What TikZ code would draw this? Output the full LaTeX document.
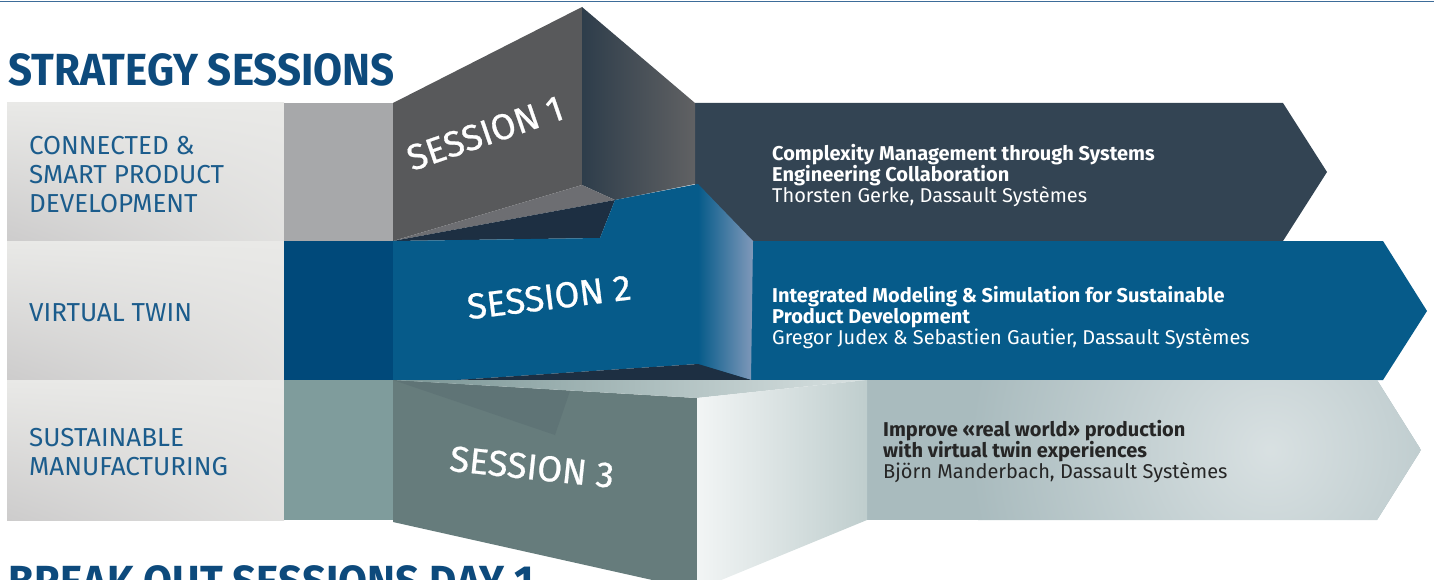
\documentclass[tikz,border=0pt]{standalone}
\usepackage{fontspec}
\setmainfont{Fira Sans}
\newfontfamily\sessionfont{Fira Sans}[FakeBold=0.7]
\usetikzlibrary{positioning,shadings}

\definecolor{headblue}{HTML}{0D4A7C}
\definecolor{labelblue}{HTML}{1B5C8C}
\definecolor{rulblue}{HTML}{3D6C99}
\definecolor{slate}{HTML}{334453}
\definecolor{petrol}{HTML}{065B8A}
\definecolor{deepblue}{HTML}{00497A}
\definecolor{sideblue}{HTML}{8099BA}
\definecolor{midgray}{HTML}{A7A8AA}
\definecolor{greyteal}{HTML}{7F9C9C}
\definecolor{frontgray}{HTML}{58595B}
\definecolor{floorgray}{HTML}{6D6E72}
\definecolor{navy}{HTML}{1D2F42}
\definecolor{frontteal}{HTML}{667C7C}
\definecolor{shadeteal}{HTML}{5F7476}
\definecolor{paleteal}{HTML}{A9BBBE}
\definecolor{boxlight}{HTML}{E9E9E7}
\definecolor{boxdark}{HTML}{CDCCCC}

\tikzset{
  heading/.style={anchor=base west, inner sep=0pt, xscale=0.935, text=headblue, font=\fontsize{45}{45}\selectfont\bfseries},
  rowlabel/.style={anchor=north west, inner sep=0pt, align=left, text=labelblue, font=\fontsize{26}{29}\selectfont},
  talk/.style={anchor=north west, inner sep=0pt, align=left, font=\fontsize{20}{21}\selectfont},
  sessionlabel/.style={inner sep=0pt, text=white, font=\sessionfont\fontsize{36}{36}\selectfont},
  rowbox/.style={upper left=boxlight, upper right=boxlight, lower left=boxdark, lower right=boxlight!70!boxdark}
}

\begin{document}
\begin{tikzpicture}[x=1pt,y=-1pt]
	\useasboundingbox (0,0) rectangle (1434,580);
	\clip (0,0) rectangle (1434,580);
	\draw[rulblue, line width=1.5pt] (0,1.5) -- (1434,1.5);

	\foreach \ytop/\ybot/\barcol in {103/241/midgray, 241/380/deepblue, 380/520/greyteal}{
		\shade[rowbox] (7,\ytop) rectangle (284,\ybot);
		\fill[\barcol] (284,\ytop) rectangle (393,\ybot);
	}

	\fill[slate] (695,103) -- (1283,103) -- (1327,172) -- (1283,241) -- (695,241) -- cycle;
	\fill[petrol] (698,241) -- (1383,241) -- (1427,311) -- (1383,380) -- (698,380) -- cycle;
	\begin{scope}
		\clip (866,380) -- (1377,380) -- (1421,450) -- (1377,520) -- (866,520) -- cycle;
		\fill[paleteal] (866,380) rectangle (1421,520);
		\shade[inner color=white!55!paleteal, outer color=paleteal] (1270,450) circle (300);
	\end{scope}

	\fill[frontgray] (393,103) -- (582,7) -- (582,185) -- (393,241) -- cycle;
	\shade[left color=slate!90!black, right color=frontgray!95!white] (582,7) -- (695,103) -- (695,184) -- (615,200) -- (582,185) -- cycle;
	\fill[floorgray] (393,241) -- (582,185) -- (615,200) -- cycle;
	\fill[navy] (393,241) -- (615,200) -- (600,238) -- cycle;

	\fill[petrol] (393,241) -- (600,238) -- (615,200) -- (698,184) -- (698,364) -- (457,380) -- (393,380) -- cycle;
	\shade[left color=petrol, right color=sideblue] (698,184) -- (753,241) -- (751,380) -- (698,364) -- cycle;
	\fill[navy] (457,380) -- (698,364) -- (751,380) -- cycle;

	\fill[frontteal] (393,380) -- (697,398) -- (697,590) -- (393,522) -- cycle;
	\fill[shadeteal] (393,380) -- (570,391) -- (555,435) -- cycle;
	\shade[left color=greyteal!95!black, right color=greyteal!30!white] (393,380) -- (867,380) -- (697,398) -- cycle;
	\shade[left color=white!90!greyteal, right color=greyteal!50!white] (697,398) -- (867,380) -- (867,520) -- (697,590) -- cycle;

	\node[heading] (strategy) at (8,86) {STRATEGY SESSIONS};
	\node[heading] (breakout) at (8,597) {BREAK OUT SESSIONS DAY 1};

	\node[rowlabel] (connected) at (29,136) {CONNECTED \&\\SMART PRODUCT\\DEVELOPMENT};
	\node[rowlabel] (virtual) at (29,303) {VIRTUAL TWIN};
	\node[rowlabel] (sustain) at (29,428) {SUSTAINABLE\\MANUFACTURING};

	\node[sessionlabel, rotate=19] (s1) at (485,133) {SESSION 1};
	\node[sessionlabel, rotate=7] (s2) at (549,297) {SESSION 2};
	\node[sessionlabel, rotate=-6] (s3) at (532,467) {SESSION 3};

	\node[talk, text=white] (t1) at (772,144) {\textbf{Complexity Management through Systems}\\\textbf{Engineering Collaboration}\\Thorsten Gerke, Dassault Systèmes};
	\node[talk, text=white] (t2) at (772,286) {\textbf{Integrated Modeling \& Simulation for Sustainable}\\\textbf{Product Development}\\Gregor Judex \& Sebastien Gautier, Dassault Systèmes};
	\node[talk, text=black!85] (t3) at (883,420) {\textbf{Improve «real world» production}\\\textbf{with virtual twin experiences}\\Björn Manderbach, Dassault Systèmes};
\end{tikzpicture}
\end{document}
